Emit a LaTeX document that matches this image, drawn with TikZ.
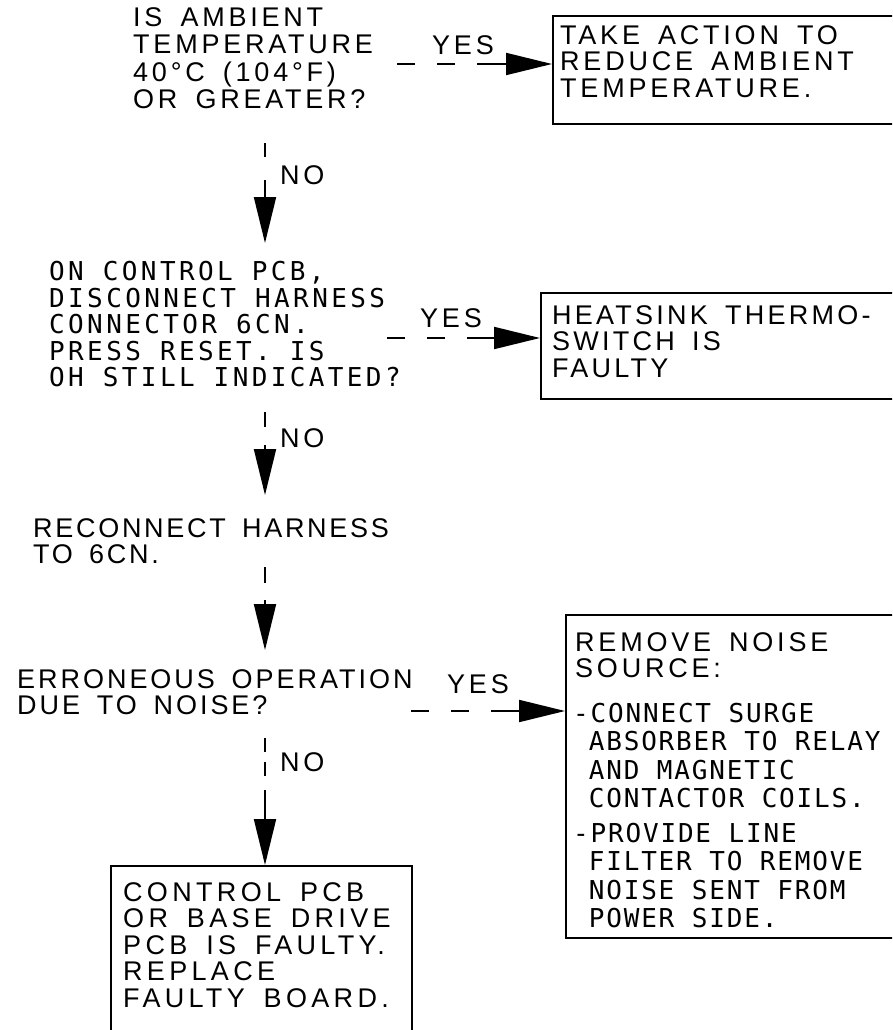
\documentclass[tikz,border=0pt]{standalone}
\usepackage{fontspec}
\usetikzlibrary{arrows.meta}
\newfontfamily\fA[LetterSpace=14,WordSpace=1.6]{Liberation Sans}
\newfontfamily\fB[LetterSpace=11,WordSpace=1.6]{Liberation Sans}
\newfontfamily\fE[LetterSpace=10,WordSpace=1.6]{Liberation Sans}
\newfontfamily\fC[LetterSpace=16,WordSpace=1.6]{Liberation Sans}
\newfontfamily\fD[LetterSpace=12,WordSpace=1.6]{Liberation Sans}
\newfontfamily\mA[LetterSpace=13]{DejaVu Sans Mono}
\newfontfamily\mB[LetterSpace=7]{DejaVu Sans Mono}
\tikzset{
  txt/.style={anchor=north west, inner sep=0pt, align=left},
  sA/.style={txt, font={\fA\fontsize{27pt}{27.5pt}\selectfont}},
  sB/.style={txt, font={\fB\fontsize{27pt}{26.5pt}\selectfont}},
  sE/.style={txt, font={\fE\fontsize{27pt}{26.5pt}\selectfont}},
  sC/.style={txt, font={\fC\fontsize{27pt}{26.5pt}\selectfont}},
  sD/.style={txt, font={\fD\fontsize{27pt}{26.5pt}\selectfont}},
  sM/.style={txt, font={\mA\fontsize{26pt}{26.5pt}\selectfont}},
  sN/.style={txt, font={\mB\fontsize{26pt}{28.3pt}\selectfont}},
  lbl/.style={txt, font={\fA\fontsize{27pt}{27pt}\selectfont}},
  frame/.style={draw, line width=1.8pt, anchor=north west, inner sep=0pt},
  conn/.style={line width=2pt, -{Triangle[length=46pt,width=22pt]}},
  hdash/.style={conn, dash pattern=on 18pt off 22pt on 18pt off 22pt on 60pt},
}
\begin{document}
\begin{tikzpicture}[x=1pt,y=-1pt]
\clip (0,0) rectangle (892,1030);
\fill[white] (0,0) rectangle (892,1030);

% question 1
\node[sA] (q1) at (133,7) {IS AMBIENT\\TEMPERATURE\\40°C (104°F)\\OR GREATER?};
% box 1
\node[frame, minimum width=348pt, minimum height=108pt] (b1) at (552,15) {};
\node[sA, font={\fA\fontsize{27pt}{26.5pt}\selectfont}] (b1t) at (560,25) {TAKE ACTION TO\\REDUCE AMBIENT\\TEMPERATURE.};
\coordinate (y1s) at (397,64);
\draw[hdash] (y1s) -- (y1s -| b1.west);
\node[lbl] (yes1) at (432,35) {YES};

% arrow 1
\coordinate (a1s) at (265,143);
\coordinate (a1e) at (265,243);
\draw[conn, dash pattern=on 14pt off 23pt on 60pt] (a1s) -- (a1e);
\node[lbl] (no1) at (280,165) {NO};

% question 2
\node[sM] (q2) at (49,261) {ON CONTROL PCB,\\DISCONNECT HARNESS\\CONNECTOR 6CN.\\PRESS RESET. IS\\OH STILL INDICATED?};
% box 2
\node[frame, minimum width=360pt, minimum height=106pt] (b2) at (540,292) {};
\node[sD] (b2t) at (552,305) {HEATSINK THERMO-\\SWITCH IS\\FAULTY};
\coordinate (y2s) at (387,338);
\draw[hdash] (y2s) -- (y2s -| b2.west);
\node[lbl] (yes2) at (420,308) {YES};

% arrow 2
\coordinate (a2s) at (265,412);
\coordinate (a2e) at (265,495);
\draw[conn, dash pattern=on 15pt off 18pt on 60pt] (a2s) -- (a2e);
\node[lbl] (no2) at (280,428) {NO};

% reconnect
\node[sE] (rc) at (33,518) {RECONNECT HARNESS\\TO 6CN.};

% arrow 3
\coordinate (a3s) at (265,567);
\coordinate (a3e) at (265,650);
\draw[conn, dash pattern=on 16pt off 17pt on 60pt] (a3s) -- (a3e);

% question 3
\node[sB] (q3) at (17,669) {ERRONEOUS OPERATION\\DUE TO NOISE?};
% box 3
\node[frame, minimum width=335pt, minimum height=323pt] (b3) at (565,614) {};
\node[sA, font={\fA\fontsize{27pt}{26pt}\selectfont}] (b3a) at (575,632) {REMOVE NOISE\\SOURCE:};
\node[sN] (b3b) at (573,703) {-CONNECT SURGE\\\hphantom{-}ABSORBER TO RELAY\\\hphantom{-}AND MAGNETIC\\\hphantom{-}CONTACTOR COILS.};
\node[sN] (b3c) at (573,823) {-PROVIDE LINE\\\hphantom{-}FILTER TO REMOVE\\\hphantom{-}NOISE SENT FROM\\\hphantom{-}POWER SIDE.};
\coordinate (y3s) at (411,711);
\draw[hdash] (y3s) -- (y3s -| b3.west);
\node[lbl] (yes3) at (447,674) {YES};

% arrow 4
\node[frame, minimum width=301pt, minimum height=180pt] (b4) at (110,865) {};
\node[sC] (b4t) at (123,882) {CONTROL PCB\\OR BASE DRIVE\\PCB IS FAULTY.\\REPLACE\\FAULTY BOARD.};
\coordinate (a4s) at (265,738);
\draw[conn, dash pattern=on 14pt off 10pt on 14pt off 14pt on 60pt] (a4s) -- (a4s |- b4.north);
\node[lbl] (no4) at (280,752) {NO};
\end{tikzpicture}
\end{document}
